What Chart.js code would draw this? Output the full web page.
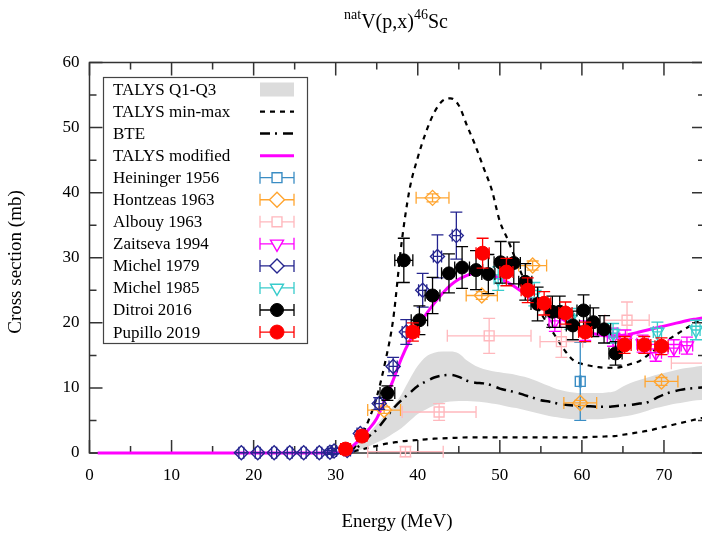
<!DOCTYPE html>
<html><head><meta charset="utf-8">
<script src="https://cdn.jsdelivr.net/npm/chart.js@4.4.0/dist/chart.umd.min.js"></script>
<style>html,body{margin:0;padding:0;overflow:hidden;background:#fff;width:702px;height:540px}canvas{display:block}</style>
</head><body>
<canvas id="c" width="706" height="540" style="width:706px;height:540px"></canvas>
<script>
// ---------- data ----------
const xTickValues = [0, 10, 20, 30, 40, 50, 60, 70];
const yTickValues = [0, 10, 20, 30, 40, 50, 60];

const talysModE  = [1, 30, 31, 32, 33, 34, 35, 36, 37, 38, 39, 40, 41, 42, 43, 44, 45, 46, 47, 48, 49, 50, 51, 52, 53, 54, 55, 56, 57, 58, 59, 60, 61, 62, 63, 64, 65, 66, 67, 68, 69, 70, 71, 72, 73, 74, 75];
const talysModCS = [0, 0, 0.3, 1.0, 2.2, 3.6, 5.3, 8.2, 11.2, 14.5, 17.2, 19.3, 21.3, 23.0, 24.5, 25.8, 26.7, 27.3, 27.7, 27.8, 27.5, 26.8, 26.2, 25.4, 24.5, 23.5, 22.6, 21.7, 21.0, 20.3, 19.6, 19.0, 18.5, 18.2, 18.0, 18.0, 18.1, 18.3, 18.6, 18.9, 19.2, 19.5, 19.8, 20.1, 20.4, 20.6, 20.8];

const minmaxE    = [31, 32, 33, 34, 35, 36, 37, 38, 39, 40, 41, 42, 43, 44, 45, 46, 47, 48, 49, 50, 51, 52, 53, 54, 55, 56, 57, 58, 59, 60, 61, 62, 63, 64, 65, 66, 67, 68, 69, 70, 71, 72, 73, 74, 75];
const maxCS      = [0, 0.4, 2.3, 5.0, 8.6, 13.8, 20.5, 32.0, 40.5, 45.4, 49.3, 52.3, 54.1, 54.5, 53.4, 50.3, 47.3, 43.9, 40.5, 35.6, 32.7, 29.5, 26.5, 23.8, 21.5, 19.5, 17.5, 15.6, 14.2, 13.7, 13.4, 13.2, 13.1, 13.1, 13.3, 13.7, 14.1, 15.0, 16.0, 17.0, 17.8, 18.6, 19.4, 20.2, 21.0];
const minCS      = [0, 0.2, 0.5, 0.8, 1.1, 1.4, 1.6, 1.8, 1.9, 2.0, 2.1, 2.2, 2.25, 2.3, 2.35, 2.4, 2.4, 2.4, 2.4, 2.4, 2.4, 2.4, 2.4, 2.4, 2.4, 2.4, 2.4, 2.4, 2.4, 2.4, 2.45, 2.5, 2.55, 2.6, 2.8, 3.0, 3.2, 3.4, 3.7, 4.0, 4.3, 4.6, 4.9, 5.2, 5.5];

const bteE       = [31, 32, 33, 34, 35, 36, 37, 38, 39, 40, 41, 42, 43, 44, 45, 46, 47, 48, 49, 50, 51, 52, 53, 54, 55, 56, 57, 58, 59, 60, 61, 62, 63, 64, 65, 66, 67, 68, 69, 70, 71, 72, 73, 74, 75];
const bteCS      = [0, 0.5, 1.2, 2.5, 3.6, 5.2, 6.8, 8.1, 9.2, 10.3, 11.0, 11.6, 11.9, 12.0, 11.7, 11.1, 10.8, 10.7, 10.4, 9.9, 9.6, 9.3, 8.9, 8.5, 8.1, 7.9, 7.6, 7.4, 7.3, 7.2, 7.2, 7.1, 7.1, 7.2, 7.3, 7.4, 7.6, 7.8, 8.4, 9.0, 9.4, 9.7, 9.9, 10.0, 10.1];

const bandE      = [31, 32, 33, 34, 35, 36, 37, 38, 39, 40, 41, 42, 43, 44, 45, 46, 47, 48, 49, 50, 51, 52, 53, 54, 55, 56, 57, 58, 59, 60, 61, 62, 63, 64, 65, 66, 67, 68, 69, 70, 71, 72, 73, 74, 75];
const bandQ1     = [0, 0.2, 0.5, 1.0, 1.6, 2.2, 3.0, 3.8, 4.9, 6.0, 6.7, 7.3, 7.7, 7.9, 8.0, 8.0, 7.9, 7.8, 7.6, 7.4, 7.1, 6.9, 6.6, 6.3, 6.0, 5.7, 5.5, 5.3, 5.2, 5.2, 5.2, 5.2, 5.3, 5.4, 5.6, 5.8, 6.1, 6.5, 6.9, 7.2, 7.5, 7.7, 7.9, 8.1, 8.2];
const bandQ3     = [0.2, 0.8, 1.8, 3.0, 4.4, 5.8, 7.2, 9.0, 11.3, 13.4, 14.8, 15.4, 15.6, 15.6, 15.3, 14.2, 13.4, 12.9, 12.6, 12.4, 12.2, 12.0, 11.7, 11.3, 10.8, 10.3, 9.8, 9.5, 9.3, 9.2, 9.2, 9.2, 9.3, 9.5, 10.2, 10.8, 11.2, 11.6, 12.0, 12.3, 12.6, 12.9, 13.1, 13.3, 13.5];

const heiningerE = [59.8];
const heiningerCS = [11.0];
const heiningerDE = [0.1];
const heiningerDCS = [6.0];

const hontzeasE = [35.9, 41.8, 47.8, 54.0, 59.8, 69.7];
const hontzeasCS = [6.6, 39.2, 24.2, 28.8, 7.7, 11.0];
const hontzeasDE = [2.0, 2.0, 1.9, 1.7, 2.0, 2.0];
const hontzeasDCS = [0.5, 0.6, 0.6, 0.7, 0.4, 0.6];

const albouyE = [38.5, 42.6, 48.7, 57.5, 65.5, 76.5];
const albouyCS = [0.2, 6.3, 18.0, 17.1, 20.4, 13.8];
const albouyDE = [4.6, 4.5, 5.1, 2.6, 2.7, 5.6];
const albouyDCS = [0.8, 1.3, 2.7, 2.4, 2.8, 1.5];

const zaitsevaE = [56.7, 60.4, 63.8, 65.3, 67.4, 69.0, 71.2, 72.8];
const zaitsevaCS = [20.3, 18.8, 17.8, 17.5, 16.8, 15.4, 16.1, 16.5];
const zaitsevaDE = [0.7, 0.7, 0.7, 0.7, 0.7, 0.7, 0.7, 0.7];
const zaitsevaDCS = [1.6, 1.5, 1.4, 1.4, 1.3, 1.3, 1.3, 1.3];

const michel79E = [18.5, 20.5, 22.5, 24.4, 26.1, 28.0, 29.3, 29.8, 31.4, 33.0, 35.3, 37.0, 38.6, 40.6, 42.4, 44.7];
const michel79CS = [0.05, 0.05, 0.05, 0.05, 0.05, 0.05, 0.1, 0.3, 0.4, 3.0, 7.6, 13.3, 18.6, 25.0, 30.2, 33.4];
const michel79DE = [0.3, 0.3, 0.3, 0.3, 0.3, 0.3, 0.3, 0.3, 0.4, 0.4, 0.5, 0.5, 0.5, 0.5, 0.5, 0.5];
const michel79DCS = [0.01, 0.01, 0.01, 0.01, 0.01, 0.01, 0.3, 0.4, 0.3, 0.4, 0.9, 1.4, 1.9, 2.6, 3.3, 3.6];

const michel85E = [49.8, 54.2, 58.6, 63.8, 69.2, 73.9];
const michel85CS = [26.8, 24.4, 20.6, 18.4, 18.6, 18.9];
const michel85DE = [0.5, 0.5, 0.5, 0.5, 0.5, 0.5];
const michel85DCS = [1.8, 1.8, 1.6, 1.5, 1.5, 1.5];

const ditroiE = [36.3, 38.3, 40.2, 41.8, 43.8, 45.4, 47.1, 48.6, 50.1, 51.7, 53.1, 54.6, 56.4, 57.3, 58.9, 60.2, 61.4, 62.7, 64.1];
const ditroiCS = [9.2, 29.6, 20.4, 24.2, 27.6, 28.5, 28.1, 27.5, 29.3, 29.2, 26.3, 22.9, 21.7, 21.7, 19.6, 21.9, 20.1, 19.0, 15.3];
const ditroiDE = [0.9, 1.1, 1.0, 0.9, 0.9, 0.9, 0.8, 0.8, 0.8, 0.8, 0.8, 0.8, 0.8, 0.8, 0.8, 0.8, 0.8, 0.8, 0.8];
const ditroiDCS = [1.1, 3.4, 2.2, 2.8, 3.0, 3.2, 3.0, 3.0, 3.2, 3.2, 2.8, 2.6, 2.4, 2.4, 2.2, 2.4, 2.2, 2.1, 1.8];

const pupilloE = [31.2, 33.2, 39.4, 47.9, 50.8, 53.4, 55.4, 58.0, 60.4, 65.2, 67.6, 69.7];
const pupilloCS = [0.6, 2.6, 18.6, 30.7, 27.8, 25.0, 23.0, 21.5, 18.6, 16.6, 16.6, 16.4];
const pupilloDE = [0.6, 0.6, 0.7, 0.8, 0.8, 0.8, 0.8, 0.8, 0.8, 0.8, 0.8, 0.8];
const pupilloDCS = [0.1, 0.3, 1.4, 2.3, 2.1, 1.9, 1.8, 1.7, 1.5, 1.3, 1.3, 1.3];

const legendLabels = ['TALYS Q1-Q3', 'TALYS min-max', 'BTE', 'TALYS modified', 'Heininger 1956', 'Hontzeas 1963', 'Albouy 1963', 'Zaitseva 1994', 'Michel 1979', 'Michel 1985', 'Ditroi 2016', 'Pupillo 2019'];

// ---------- styling ----------
const FONT = "'Liberation Serif', 'Times New Roman', serif";
const COL = {
  band: '#dcdcdc', magenta: '#ff00ff',
  heininger: '#3a8dc4', hontzeas: '#ffa530', albouy: '#ffb8bd', zaitseva: '#ff00ff',
  michel79: '#25258f', michel85: '#38cccc', ditroi: '#000000', pupillo: '#ff0000'
};
const DOT_DASH = [5, 5];
const BTE_DASH = [10, 5, 2, 6];

function pts(E, CS, DE, DCS) { return E.map((e, i) => ({ x: e, y: CS[i], xe: DE[i], ye: DCS[i] })); }
function line(E, V) { return E.map((e, i) => ({ x: e, y: V[i] })); }

const symbols = {
  heininger: { style: 'rect', r: 7, fill: false, rot: 0 },
  hontzeas: { style: 'rectRot', r: 7.5, fill: false, rot: 0 },
  albouy: { style: 'rect', r: 7, fill: false, rot: 0 },
  zaitseva: { style: 'triangle', r: 7.5, fill: false, rot: 180 },
  michel79: { style: 'rectRot', r: 7, fill: false, rot: 0 },
  michel85: { style: 'triangle', r: 7.5, fill: false, rot: 180 },
  ditroi: { style: 'circle', r: 6.5, fill: true, rot: 0 },
  pupillo: { style: 'circle', r: 7, fill: true, rot: 0 }
};

function ptSet(key, label, data, order) {
  const s = symbols[key], c = COL[key];
  return {
    label, data, errColor: c, showLine: false, order, clip: false,
    pointStyle: s.style, pointRadius: s.r, pointRotation: s.rot,
    pointBackgroundColor: s.fill ? c : 'rgba(0,0,0,0)', pointBorderColor: c,
    pointBorderWidth: s.fill ? 1 : 1.4, backgroundColor: s.fill ? c : 'rgba(0,0,0,0)', borderColor: c
  };
}
function lineSet(label, data, color, width, dash, order) {
  return {
    label, data, showLine: true, pointRadius: 0, borderColor: color, borderWidth: width,
    borderDash: dash, fill: false, order, cubicInterpolationMode: 'monotone', clip: 4
  };
}

const datasets = [
  { label: 'Q1', data: line(bandE, bandQ1), showLine: true, pointRadius: 0, borderColor: 'rgba(0,0,0,0)', borderWidth: 1, fill: false, order: 30, cubicInterpolationMode: 'monotone' },
  { label: 'TALYS Q1-Q3', data: line(bandE, bandQ3), showLine: true, pointRadius: 0, borderColor: 'rgba(0,0,0,0)', borderWidth: 1, fill: '-1', backgroundColor: COL.band, order: 29, cubicInterpolationMode: 'monotone' },
  lineSet('TALYS max', line(minmaxE, maxCS), '#000', 2.2, DOT_DASH, 20),
  lineSet('TALYS min', line(minmaxE, minCS), '#000', 2.2, DOT_DASH, 19),
  lineSet('BTE', line(bteE, bteCS), '#000', 2.5, BTE_DASH, 18),
  lineSet('TALYS modified', line(talysModE, talysModCS), COL.magenta, 3, [], 17),
  ptSet('heininger', 'Heininger 1956', pts(heiningerE, heiningerCS, heiningerDE, heiningerDCS), 8),
  ptSet('hontzeas', 'Hontzeas 1963', pts(hontzeasE, hontzeasCS, hontzeasDE, hontzeasDCS), 7),
  ptSet('albouy', 'Albouy 1963', pts(albouyE, albouyCS, albouyDE, albouyDCS), 6),
  ptSet('zaitseva', 'Zaitseva 1994', pts(zaitsevaE, zaitsevaCS, zaitsevaDE, zaitsevaDCS), 5),
  ptSet('michel79', 'Michel 1979', pts(michel79E, michel79CS, michel79DE, michel79DCS), 4),
  ptSet('michel85', 'Michel 1985', pts(michel85E, michel85CS, michel85DE, michel85DCS), 3),
  ptSet('ditroi', 'Ditroi 2016', pts(ditroiE, ditroiCS, ditroiDE, ditroiDCS), 2),
  ptSet('pupillo', 'Pupillo 2019', pts(pupilloE, pupilloCS, pupilloDE, pupilloDCS), 1)
];

// ---------- plugins ----------
const CAP = 6;
const errorBars = {
  id: 'errorBars',
  beforeDatasetDraw(chart, args) {
    const ds = chart.data.datasets[args.index];
    if (!ds.errColor) return;
    const xs = chart.scales.x, ys = chart.scales.y, ctx = chart.ctx;
    ctx.save();
    ctx.strokeStyle = ds.errColor; ctx.lineWidth = 1.3; ctx.setLineDash([]);
    ctx.beginPath();
    for (const p of ds.data) {
      const cx = xs.getPixelForValue(p.x), cy = ys.getPixelForValue(p.y);
      const xl = xs.getPixelForValue(p.x - p.xe), xr = xs.getPixelForValue(p.x + p.xe);
      const yt = ys.getPixelForValue(p.y + p.ye), yb = ys.getPixelForValue(p.y - p.ye);
      ctx.moveTo(xl, cy); ctx.lineTo(xr, cy);
      ctx.moveTo(xl, cy - CAP); ctx.lineTo(xl, cy + CAP);
      ctx.moveTo(xr, cy - CAP); ctx.lineTo(xr, cy + CAP);
      ctx.moveTo(cx, yt); ctx.lineTo(cx, yb);
      ctx.moveTo(cx - CAP, yt); ctx.lineTo(cx + CAP, yt);
      ctx.moveTo(cx - CAP, yb); ctx.lineTo(cx + CAP, yb);
    }
    ctx.stroke();
    ctx.restore();
  }
};

const frame = {
  id: 'frame',
  beforeDatasetsDraw(chart) {
    const { left, right, top, bottom } = chart.chartArea;
    const xs = chart.scales.x, ys = chart.scales.y, ctx = chart.ctx;
    ctx.save();
    ctx.strokeStyle = '#333'; ctx.lineWidth = 1.5; ctx.setLineDash([]);
    ctx.strokeRect(left, top, right - left, bottom - top);
    ctx.beginPath();
    const xStep = xTickValues[1] - xTickValues[0];
    for (let v = xs.min; v <= xs.max + 1e-9; v += xStep / 2) {
      const px = xs.getPixelForValue(v);
      const L = (Math.abs(v % xStep) < 1e-9) ? 13 : 7;
      ctx.moveTo(px, bottom); ctx.lineTo(px, bottom - L);
      ctx.moveTo(px, top); ctx.lineTo(px, top + L);
    }
    const yStep = yTickValues[1] - yTickValues[0];
    for (let v = ys.min; v <= ys.max + 1e-9; v += yStep / 2) {
      const py = ys.getPixelForValue(v);
      const L = (Math.abs(v % yStep) < 1e-9) ? 13 : 7;
      ctx.moveTo(left, py); ctx.lineTo(left + L, py);
      ctx.moveTo(right, py); ctx.lineTo(right - L, py);
    }
    ctx.stroke();
    ctx.restore();
  }
};

function drawSymbol(ctx, key, x, y) {
  const s = symbols[key], c = COL[key];
  ctx.save();
  ctx.strokeStyle = c; ctx.fillStyle = c; ctx.lineWidth = s.fill ? 1 : 1.4;
  ctx.beginPath();
  if (s.style === 'circle') { ctx.arc(x, y, s.r, 0, Math.PI * 2); }
  else if (s.style === 'rect') { const h = s.r * Math.SQRT1_2; ctx.rect(x - h, y - h, 2 * h, 2 * h); }
  else if (s.style === 'rectRot') { ctx.moveTo(x, y - s.r); ctx.lineTo(x + s.r, y); ctx.lineTo(x, y + s.r); ctx.lineTo(x - s.r, y); ctx.closePath(); }
  else if (s.style === 'triangle') {
    for (let k = 0; k < 3; k++) { const a = Math.PI + k * 2 * Math.PI / 3; const px = x + Math.sin(a) * s.r, py = y - Math.cos(a) * s.r; if (k === 0) ctx.moveTo(px, py); else ctx.lineTo(px, py); }
    ctx.closePath();
  }
  if (s.fill) ctx.fill(); else { ctx.fillStyle = '#fff'; ctx.fill(); ctx.stroke(); }
  if (s.fill) ctx.stroke();
  ctx.restore();
}

const annotations = {
  id: 'annotations',
  afterDraw(chart) {
    const ctx = chart.ctx;
    ctx.save();
    ctx.fillStyle = '#000';
    // title with superscripts
    const big = '17px ' + FONT;
    const tBig = '20px ' + FONT, tSmall = '14px ' + FONT;
    const parts = [['nat', tSmall, -9], ['V(p,x)', tBig, 0], ['46', tSmall, -9], ['Sc', tBig, 0]];
    let w = 0;
    for (const p of parts) { ctx.font = p[1]; w += ctx.measureText(p[0]).width; }
    let x = 396 - w / 2;
    ctx.textBaseline = 'alphabetic'; ctx.textAlign = 'left';
    for (const p of parts) { ctx.font = p[1]; ctx.fillText(p[0], x, 28 + p[2]); x += ctx.measureText(p[0]).width; }
    // axis titles
    const axFont = '19px ' + FONT;
    ctx.font = axFont; ctx.textAlign = 'center'; ctx.textBaseline = 'middle';
    ctx.fillText('Energy (MeV)', 397, 522);
    ctx.save(); ctx.translate(16, 262); ctx.rotate(-Math.PI / 2); ctx.fillText('Cross section (mb)', 0, 0); ctx.restore();

    // legend
    const bx = 103, by = 77, bw = 204, bh = 266;
    ctx.strokeStyle = '#444'; ctx.lineWidth = 1.2; ctx.strokeRect(bx + 0.5, by + 0.5, bw, bh);
    const keys = ['band', 'minmax', 'bte', 'mod', 'heininger', 'hontzeas', 'albouy', 'zaitseva', 'michel79', 'michel85', 'ditroi', 'pupillo'];
    const sx0 = 260, sx1 = 294, sxc = 277;
    ctx.font = big; ctx.textAlign = 'left'; ctx.textBaseline = 'middle';
    legendLabels.forEach((lab, i) => {
      const y = 89.5 + i * 22.05;
      ctx.fillStyle = '#000'; ctx.fillText(lab, 113, y + 1);
      const k = keys[i];
      ctx.save();
      if (k === 'band') { ctx.fillStyle = COL.band; ctx.fillRect(sx0, y - 7, sx1 - sx0, 14); }
      else if (k === 'minmax' || k === 'bte' || k === 'mod') {
        ctx.strokeStyle = k === 'mod' ? COL.magenta : '#000';
        ctx.lineWidth = k === 'mod' ? 3 : (k === 'bte' ? 2.5 : 2.2);
        ctx.setLineDash(k === 'minmax' ? DOT_DASH : (k === 'bte' ? BTE_DASH : []));
        ctx.beginPath(); ctx.moveTo(sx0, y); ctx.lineTo(sx1, y); ctx.stroke();
      } else {
        ctx.strokeStyle = COL[k]; ctx.lineWidth = 1.3;
        ctx.beginPath();
        ctx.moveTo(sx0, y); ctx.lineTo(sx1, y);
        ctx.moveTo(sx0, y - CAP); ctx.lineTo(sx0, y + CAP);
        ctx.moveTo(sx1, y - CAP); ctx.lineTo(sx1, y + CAP);
        ctx.stroke();
        drawSymbol(ctx, k, sxc, y);
      }
      ctx.restore();
    });
    ctx.restore();
  }
};

new Chart(document.getElementById('c'), {
  type: 'scatter',
  data: { datasets },
  options: {
    responsive: false, animation: false, events: [],
    layout: { autoPadding: false, padding: { left: 0, right: 1, top: 62.5, bottom: 0 } },
    plugins: { legend: { display: false }, tooltip: { enabled: false }, title: { display: false } },
    scales: {
      x: {
        type: 'linear', min: 0, max: 75,
        afterBuildTicks: s => { s.ticks = xTickValues.map(v => ({ value: v })); },
        afterFit: s => { s.height = 87; s.paddingLeft = 0; s.paddingRight = 0; },
        grid: { display: false, drawTicks: false }, border: { display: false },
        ticks: { font: { family: FONT, size: 17 }, color: '#000', padding: 12, maxRotation: 0, autoSkip: false }
      },
      y: {
        type: 'linear', min: 0, max: 60,
        afterBuildTicks: s => { s.ticks = yTickValues.map(v => ({ value: v })); },
        afterFit: s => { s.width = 89.5; s.paddingTop = 0; s.paddingBottom = 0; },
        grid: { display: false, drawTicks: false }, border: { display: false },
        ticks: { font: { family: FONT, size: 17 }, color: '#000', padding: 10, autoSkip: false }
      }
    }
  },
  plugins: [errorBars, frame, annotations]
});
</script>
</body></html>
